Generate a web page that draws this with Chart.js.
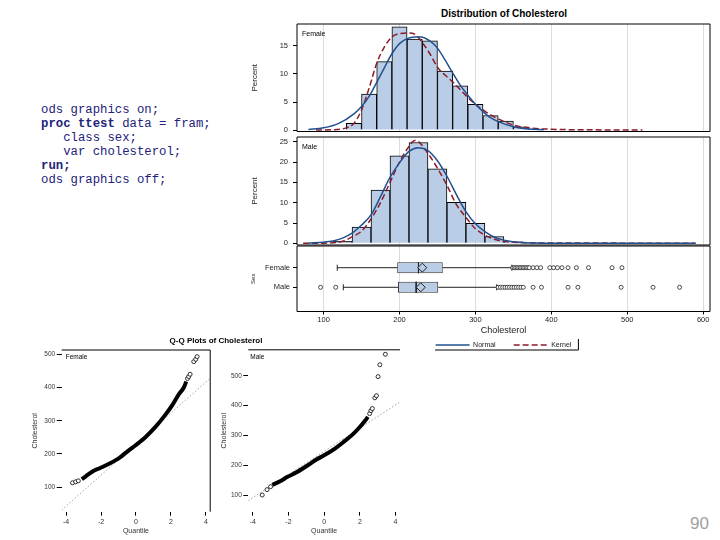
<!DOCTYPE html>
<html lang="en">
<head>
<meta charset="utf-8">
<title>Distribution of Cholesterol</title>
<script src="https://cdn.jsdelivr.net/npm/chart.js@4.4.1/dist/chart.umd.min.js"></script>
<style>
  html, body { margin: 0; padding: 0; background: #fff; }
  #page { position: relative; width: 720px; height: 540px; overflow: hidden; font-family: "Liberation Sans", Arial, sans-serif; }
  #page canvas { position: absolute; }
  #code { position: absolute; left: 41px; top: 103px; margin: 0; font: 12.3px/14.1px "Liberation Mono", "DejaVu Sans Mono", monospace; color: #23237a; }
  .title { position: absolute; font-weight: bold; color: #000; white-space: nowrap; transform: translateX(-50%); }
  #histTitle { left: 504px; top: 8px; font-size: 10px; }
  #qqTitle { left: 216px; top: 336px; font-size: 8px; }
  #pageNo { position: absolute; left: 690px; top: 514px; font-size: 17px; color: #a0a0a0; }
</style>
</head>
<body>
<div id="page">
<pre id="code">ods graphics on;
<b>proc ttest</b> data = fram;
   class sex;
   var cholesterol;
<b>run;</b>
ods graphics off;</pre>
  <div class="title" id="histTitle">Distribution of Cholesterol</div>
  <canvas id="female" width="476" height="118" style="left:240px; top:18px"></canvas>
  <canvas id="male" width="476" height="118" style="left:240px; top:131px"></canvas>
  <canvas id="box" width="476" height="132" style="left:240px; top:240px"></canvas>
  <div class="title" id="qqTitle">Q-Q Plots of Cholesterol</div>
  <canvas id="qqFemale" width="215" height="195" style="left:0px; top:345px"></canvas>
  <canvas id="qqMale" width="210" height="195" style="left:200px; top:345px"></canvas>
  <div id="pageNo">90</div>
</div>
<script>
// histogram bins (midpoints) and percent per bin
const femaleBinMid = [140, 160, 180, 200, 220, 240, 260, 280, 300, 320, 340, 360, 380];
const femalePercent = [1.2, 6.4, 12.2, 18.4, 16.2, 15.9, 10.5, 7.9, 4.6, 2.6, 1.6, 0.6, 0.2];
const maleBinMid = [125, 150, 175, 200, 225, 250, 275, 300, 325, 350, 375];
const malePercent = [0.5, 4.0, 13.1, 21.5, 24.8, 18.3, 10.1, 4.9, 1.7, 0.4, 0.1];

// fitted density curves, in percent
const femaleNormalX = [80, 100, 120, 140, 150, 160, 170, 180, 190, 200, 210, 220, 228, 240, 250, 260, 270, 280, 290, 300, 310, 320, 330, 350, 370, 390];
const femaleNormalY = [0.1, 0.4, 1.2, 2.9, 4.2, 6.0, 8.5, 11.1, 13.6, 15.4, 16.3, 16.6, 16.6, 15.9, 14.6, 12.5, 10.2, 8.0, 6.2, 4.6, 3.3, 2.2, 1.5, 0.6, 0.2, 0.05];
const femaleKernelX = [90, 110, 130, 140, 150, 160, 170, 180, 190, 200, 212, 220, 230, 240, 250, 260, 270, 280, 290, 300, 310, 320, 330, 340, 350, 370, 400, 450, 520];
const femaleKernelY = [0, 0.05, 0.4, 1.2, 3.6, 7.5, 11.9, 14.8, 16.6, 17.2, 17.3, 17.1, 15.6, 13.6, 11.2, 9.8, 8.6, 7.2, 5.8, 4.6, 3.6, 2.7, 2.0, 1.4, 0.9, 0.4, 0.15, 0.05, 0];
const maleNormalX = [80, 100, 112.5, 125, 137.5, 150, 162.5, 175, 187.5, 200, 212.5, 225, 237.5, 250, 262.5, 275, 287.5, 300, 312.5, 325, 337.5, 360, 400, 500, 590];
const maleNormalY = [0.1, 0.3, 0.6, 1.3, 2.5, 4.5, 7.0, 11.5, 16.2, 19.8, 22.6, 23.5, 22.8, 20.3, 16.5, 12.0, 7.8, 4.8, 2.9, 1.5, 0.8, 0.2, 0.05, 0, 0];
const maleKernelX = [73, 100, 125, 137.5, 150, 162.5, 175, 187.5, 200, 212.5, 220, 225, 237.5, 250, 262.5, 275, 287.5, 300, 312.5, 325, 337.5, 360, 400, 450, 500, 590];
const maleKernelY = [0, 0.05, 0.5, 1.6, 3.0, 6.0, 10.0, 15.0, 20.0, 23.8, 25.3, 25.0, 22.1, 18.5, 14.3, 9.5, 6.4, 3.6, 2.0, 1.0, 0.5, 0.2, 0.1, 0.1, 0.05, 0];

const histXTicks = [100, 200, 300, 400, 500, 600];
const femaleYTicks = [0, 5, 10, 15];
const maleYTicks = [0, 5, 10, 15, 20, 25];

// box plot summary per sex
const boxGroups = ["Female", "Male"];
const boxQ1 = [197, 198];
const boxMedian = [225, 222];
const boxQ3 = [257, 251];
const boxMean = [230, 228];
const whiskerLow = [118, 126];
const whiskerHigh = [348, 328];
const femaleOutliers = [349, 351, 353, 355, 357, 359, 361, 363, 365, 367, 369, 371, 376, 381, 386, 398, 403, 408, 414, 422, 433, 449, 480, 493];
const maleOutliers = [96, 116, 330, 333, 336, 339, 342, 345, 348, 351, 354, 357, 360, 363, 376, 387, 422, 435, 492, 534, 569];

// legend entries
const legendNames = ["Normal", "Kernel"];

// Q-Q plots: dense body, sparse tail points, reference line
const qqFemaleBodyX = [-3.1, -2.84, -2.46, -2.08, -1.51, -0.95, -0.57, 0, 0.57, 1.13, 1.70, 2.08, 2.46, 2.74, 2.88];
const qqFemaleBodyY = [124, 134, 148, 157, 171, 188, 204, 227, 252, 282, 319, 347, 380, 400, 418];
const qqFemaleTailX = [-3.63, -3.45, -3.3, 2.95, 3.02, 3.1, 3.31, 3.42, 3.5];
const qqFemaleTailY = [113, 116, 119, 427, 433, 440, 478, 485, 493];
const qqFemaleRefX = [-4.25, 4.25];
const qqFemaleRefY = [31, 428];
const qqMaleBodyX = [-2.9, -2.44, -2.08, -1.52, -0.96, -0.41, 0, 0.52, 1.07, 1.63, 2.0, 2.3, 2.45];
const qqMaleBodyY = [134, 147, 160, 177, 198, 220, 233, 252, 277, 305, 328, 350, 362];
const qqMaleTailX = [-3.47, -3.2, -3.0, 2.55, 2.62, 2.7, 2.84, 2.93, 3.02, 3.12, 3.43];
const qqMaleTailY = [100, 118, 128, 373, 383, 390, 426, 433, 497, 537, 572];
const qqMaleRefX = [-4.25, 4.25];
const qqMaleRefY = [81, 412];
const qqXTicks = [-4, -2, 0, 2, 4];
const qqYTicks = [100, 200, 300, 400, 500];

const FONT = "'Liberation Sans', Arial, sans-serif";
const BAR_FILL = "#b9cde6";
const NORMAL_COLOR = "#22508f";
const KERNEL_COLOR = "#8a1c2a";

Chart.defaults.font.family = FONT;
Chart.defaults.color = "#222";
Chart.defaults.animation = false;
Chart.defaults.plugins.legend.display = false;
Chart.defaults.plugins.tooltip.enabled = false;

const points = (xs, ys) => xs.map((x, i) => ({ x, y: ys[i] }));
const fixTicks = (list) => (scale) => { scale.ticks = list.map((value) => ({ value })); };
// fixed axis size, and no extra room asked for the end labels
const fixWidth = (w) => (s) => { s.width = w; s.paddingTop = 0; s.paddingBottom = 0; };
const fixHeight = (h) => (s) => { s.height = h; s.paddingLeft = 0; s.paddingRight = 0; };

// black panel frame plus the small panel label in the corner
Chart.register({
  id: "frame",
  afterDatasetsDraw(chart, args, opts) {
    const { ctx, chartArea: a } = chart;
    const sides = opts.sides || "";
    ctx.save();
    ctx.strokeStyle = "#000";
    ctx.lineWidth = 1;
    ctx.beginPath();
    if (sides.includes("top")) { ctx.moveTo(a.left, a.top); ctx.lineTo(a.right, a.top); }
    if (sides.includes("right")) { ctx.moveTo(a.right, a.top); ctx.lineTo(a.right, a.bottom); }
    if (sides.includes("bottom")) { ctx.moveTo(a.left, a.bottom); ctx.lineTo(a.right, a.bottom); }
    if (sides.includes("left")) { ctx.moveTo(a.left, a.top); ctx.lineTo(a.left, a.bottom); }
    ctx.stroke();
    if (opts.label) {
      ctx.font = `${opts.labelSize || 7}px ${FONT}`;
      ctx.fillStyle = "#000";
      ctx.textBaseline = "middle";
      ctx.fillText(opts.label, a.left + opts.labelDx, a.top + opts.labelDy);
    }
    ctx.restore();
  },
});

function histogram(id, panel, mids, pct, nx, ny, kx, ky, yMin, yMax, yTicks, pad) {
  new Chart(document.getElementById(id), {
    type: "bar",
    data: {
      datasets: [
        { type: "line", label: "Normal", data: points(nx, ny), borderColor: NORMAL_COLOR, borderWidth: 1.5,
          pointRadius: 0, cubicInterpolationMode: "monotone" },
        { type: "line", label: "Kernel", data: points(kx, ky), borderColor: KERNEL_COLOR, borderWidth: 1.5,
          borderDash: [6, 3], pointRadius: 0, cubicInterpolationMode: "monotone" },
        { label: "Percent", data: points(mids, pct), backgroundColor: BAR_FILL, borderColor: "#000",
          borderWidth: 1, barPercentage: 1, categoryPercentage: 1 },
      ],
    },
    options: {
      responsive: false,
      layout: { padding: pad },
      scales: {
        x: {
          type: "linear", min: 65, max: 609, offset: false,
          afterBuildTicks: fixTicks(histXTicks),
          afterFit: fixHeight(0),
          ticks: { display: false },
          grid: { color: "#dcdcdc", drawTicks: false, offset: false },
          border: { display: false },
        },
        y: {
          min: yMin, max: yMax,
          afterBuildTicks: fixTicks(yTicks),
          afterFit: fixWidth(57),
          ticks: { font: { size: 7.5 }, padding: 5 },
          grid: { drawOnChartArea: false, tickLength: 4, color: "#000" },
          border: { display: false },
          title: { display: true, text: "Percent", font: { size: 8 }, padding: { top: 9.5, bottom: 0 } },
        },
      },
      plugins: { frame: { sides: "top right bottom left", label: panel, labelDx: 5, labelDy: 10.5 } },
    },
  });
}

histogram("female", "Female", femaleBinMid, femalePercent, femaleNormalX, femaleNormalY,
  femaleKernelX, femaleKernelY, -0.25, 18.9, femaleYTicks, { top: 6, right: 6, bottom: 4.5, left: 0 });
histogram("male", "Male", maleBinMid, malePercent, maleNormalX, maleNormalY,
  maleKernelX, maleKernelY, -0.4, 26.15, maleYTicks, { top: 6, right: 6, bottom: 4, left: 0 });

// box plot panel with the shared x axis and the legend
const boxDatasets = [];
boxGroups.forEach((g, i) => {
  const y = i + 1;
  boxDatasets.push({ type: "scatter", data: [{ x: boxMean[i], y }], pointStyle: "rectRot", pointRadius: 4.5,
    pointBackgroundColor: BAR_FILL, pointBorderColor: "#222", pointBorderWidth: 1 });
  boxDatasets.push({ type: "scatter", showLine: true, data: [{ x: boxMedian[i], y: y - 0.28 }, { x: boxMedian[i], y: y + 0.28 }],
    borderColor: "#222", borderWidth: 1, pointRadius: 0 });
  boxDatasets.push({ type: "scatter", data: (i === 0 ? femaleOutliers : maleOutliers).map((x) => ({ x, y })),
    pointRadius: 2, pointBorderWidth: 0.8, pointBackgroundColor: "#fff", pointBorderColor: "#222" });
  boxDatasets.push({ type: "scatter", showLine: true, data: [{ x: whiskerLow[i], y }, { x: boxQ1[i], y }],
    borderColor: "#222", borderWidth: 1, pointStyle: "line", pointRotation: 90, pointRadius: [3, 0],
    pointBorderColor: "#222", pointBorderWidth: 1 });
  boxDatasets.push({ type: "scatter", showLine: true, data: [{ x: boxQ3[i], y }, { x: whiskerHigh[i], y }],
    borderColor: "#222", borderWidth: 1, pointStyle: "line", pointRotation: 90, pointRadius: [0, 3],
    pointBorderColor: "#222", pointBorderWidth: 1 });
});
boxDatasets.push({ label: "Box", data: boxGroups.map((g, i) => ({ x: [boxQ1[i], boxQ3[i]], y: i + 1 })),
  backgroundColor: BAR_FILL, borderColor: "#333", borderWidth: 1, borderSkipped: false,
  barPercentage: 0.56, categoryPercentage: 1 });

new Chart(document.getElementById("box"), {
  type: "bar",
  data: { datasets: boxDatasets },
  options: {
    responsive: false,
    indexAxis: "y",
    layout: { padding: { top: 6, right: 6, bottom: 2.5, left: 0 } },
    scales: {
      x: {
        type: "linear", min: 65, max: 609, offset: false,
        afterBuildTicks: fixTicks(histXTicks),
        afterFit: fixHeight(28),
        ticks: { font: { size: 7.5 }, padding: 1 },
        grid: { color: "#dcdcdc", tickColor: "#000", tickLength: 3, offset: false },
        border: { display: false },
        title: { display: true, text: "Cholesterol", font: { size: 9 }, padding: { top: 0, bottom: 4 } },
      },
      y: {
        type: "linear", reverse: true, min: -0.107, max: 3.235, offset: false,
        afterBuildTicks: fixTicks([1, 2]),
        afterFit: fixWidth(57),
        ticks: { font: { size: 7.5 }, padding: 3, callback: (v) => boxGroups[v - 1] || "" },
        grid: { drawOnChartArea: false, tickLength: 4, color: "#000", offset: false },
        border: { display: false },
        title: { display: true, text: "Sex", font: { size: 6 }, padding: { top: 10, bottom: 0 } },
      },
    },
    plugins: {
      frame: { sides: "top right bottom left" },
      legend: {
        display: true, position: "bottom", fullSize: false, maxHeight: 30, onClick: () => {},
        labels: {
          usePointStyle: true, pointStyleWidth: 34, padding: 18, font: { size: 7 }, color: "#222",
          generateLabels: () => legendNames.map((text, i) => ({
            text, hidden: false, pointStyle: "line", fillStyle: "transparent", lineWidth: 1.5,
            strokeStyle: i === 0 ? NORMAL_COLOR : KERNEL_COLOR, lineDash: i === 0 ? [] : [6, 3],
            fontColor: "#222",
          })),
        },
      },
    },
  },
  plugins: [{
    id: "legendFrame",
    // pull the legend up so it sits right under the axis title
    afterLayout(chart) {
      chart.legend.top -= 16;
      chart.legend.bottom -= 16;
    },
    afterDraw(chart) {
      const boxes = chart.legend && chart.legend.legendHitBoxes;
      if (!boxes || !boxes.length) return;
      const last = boxes[boxes.length - 1];
      const left = boxes[0].left - 0.5, right = last.left + last.width + 7;
      const mid = boxes[0].top + boxes[0].height / 2;
      const { ctx } = chart;
      ctx.save();
      ctx.strokeStyle = "#000";
      ctx.lineWidth = 1;
      ctx.beginPath();
      ctx.moveTo(left, mid + 5); ctx.lineTo(right, mid + 5); ctx.lineTo(right, mid - 6);
      ctx.stroke();
      ctx.restore();
    },
  }],
});

function qqPlot(id, panel, bx, by, tx, ty, rx, ry, yMin, yMax, yWidth, yTitlePad, pad, sides, labelDx) {
  new Chart(document.getElementById(id), {
    type: "scatter",
    data: {
      datasets: [
        { data: points(tx, ty), pointRadius: 2, pointBorderWidth: 0.8, pointBackgroundColor: "#fff", pointBorderColor: "#000" },
        { data: points(bx, by), showLine: true, borderColor: "#000", borderWidth: 4, pointRadius: 0,
          cubicInterpolationMode: "monotone" },
        { data: points(rx, ry), showLine: true, borderColor: "#8a8a8a", borderWidth: 0.8, borderDash: [1.5, 2], pointRadius: 0 },
      ],
    },
    options: {
      responsive: false,
      layout: { padding: pad },
      scales: {
        x: {
          type: "linear", min: -4.25, max: 4.25,
          afterBuildTicks: fixTicks(qqXTicks),
          afterFit: fixHeight(25),
          ticks: { font: { size: 7 }, padding: 2, color: "#333" },
          grid: { drawOnChartArea: false, tickLength: 4, color: "#000" },
          border: { display: false },
          title: { display: true, text: "Quantile", font: { size: 7 }, color: "#333", padding: { top: 0, bottom: 1.5 } },
        },
        y: {
          type: "linear", min: yMin, max: yMax,
          afterBuildTicks: fixTicks(qqYTicks),
          afterFit: fixWidth(yWidth),
          ticks: { font: { size: 6.5 }, padding: 1.5, color: "#333" },
          grid: { drawOnChartArea: false, tickLength: 5, color: "#000" },
          border: { display: false },
          title: { display: true, text: "Cholesterol", font: { size: 7 }, color: "#333", padding: { top: yTitlePad, bottom: 0 } },
        },
      },
      plugins: { frame: { sides, label: panel, labelSize: 6.5, labelDx, labelDy: 7.7 } },
    },
  });
}

qqPlot("qqFemale", "Female", qqFemaleBodyX, qqFemaleBodyY, qqFemaleTailX, qqFemaleTailY, qqFemaleRefX, qqFemaleRefY,
  26, 513, 61.7, 30.8, { top: 5, right: 3.3, bottom: 3.3, left: 0 }, "top right", 4);
qqPlot("qqMale", "Male", qqMaleBodyX, qqMaleBodyY, qqMaleTailX, qqMaleTailY, qqMaleRefX, qqMaleRefY,
  44, 587, 48.3, 19.8, { top: 4.3, right: 10, bottom: 3.3, left: 0 }, "top", 2);
</script>
</body>
</html>
